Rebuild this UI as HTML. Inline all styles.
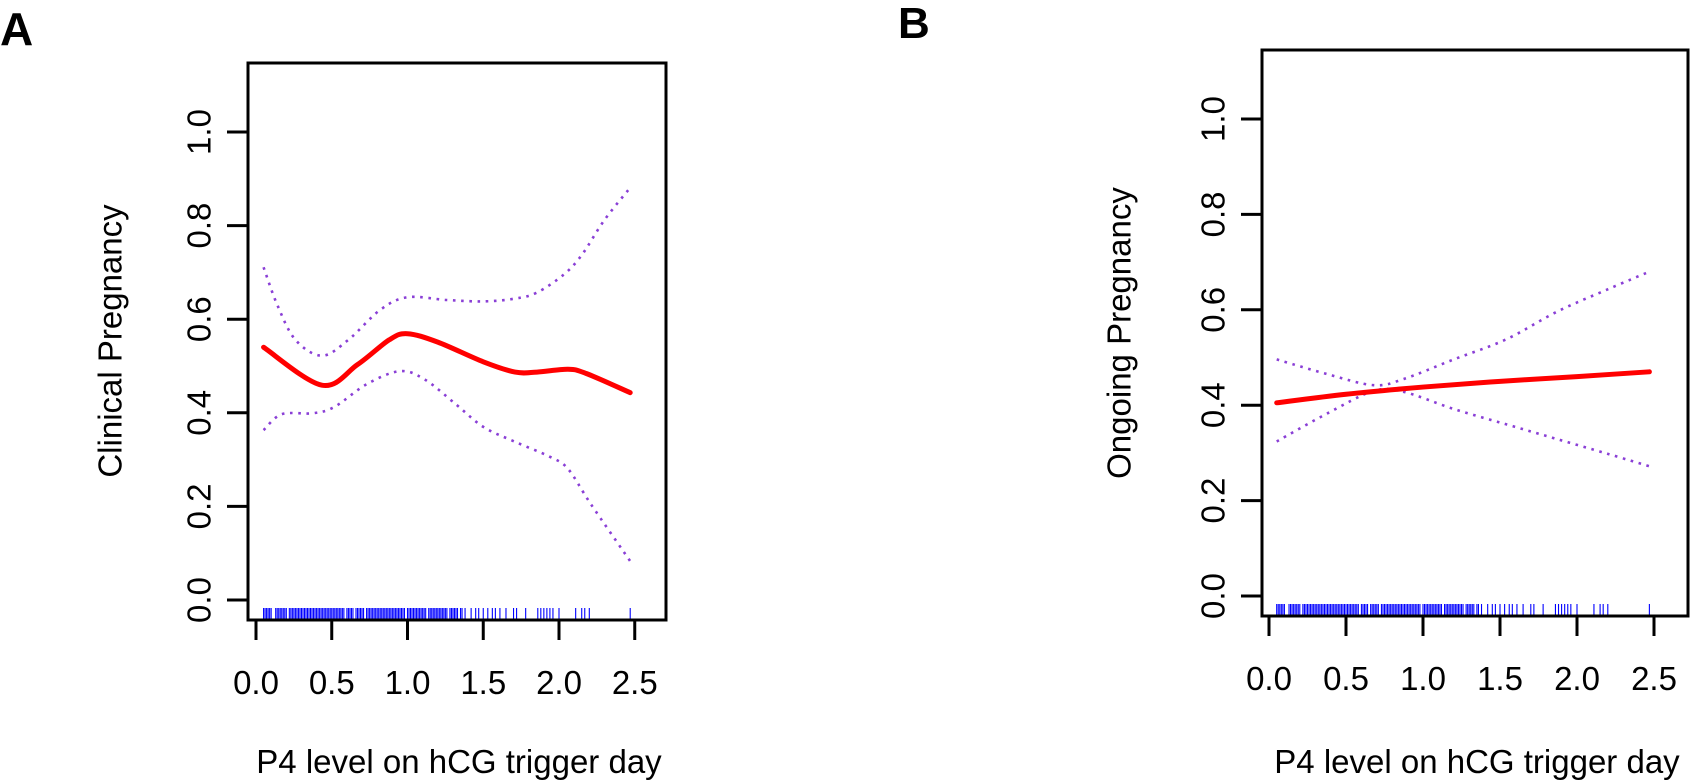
<!DOCTYPE html>
<html>
<head>
<meta charset="utf-8">
<style>
  html,body{margin:0;padding:0;background:#fff;}
  svg{display:block;}
  text{font-family:"Liberation Sans",Arial,sans-serif;fill:#000;}
</style>
</head>
<body>
<svg id="chart" width="1692" height="782" viewBox="0 0 1692 782" xmlns="http://www.w3.org/2000/svg">
  <text x="0" y="45" font-size="46" font-weight="bold">A</text>
  <text x="898" y="38" font-size="44" font-weight="bold">B</text>
</svg>
<script>
// ---------- Data ----------
const xTicks = [0.0, 0.5, 1.0, 1.5, 2.0, 2.5];
const xTickLabels = ["0.0", "0.5", "1.0", "1.5", "2.0", "2.5"];
const yTicks = [0.0, 0.2, 0.4, 0.6, 0.8, 1.0];
const yTickLabels = ["0.0", "0.2", "0.4", "0.6", "0.8", "1.0"];

// Panel A: Clinical Pregnancy
const aFitX = [0.05, 0.435, 0.67, 0.88, 1.0, 1.2, 1.5, 1.71, 1.855, 2.06, 2.18, 2.47];
const aFitY = [0.540, 0.459, 0.503, 0.556, 0.569, 0.551, 0.509, 0.487, 0.487, 0.493, 0.484, 0.443];
const aUpperX = [0.05, 0.14, 0.26, 0.435, 0.61, 0.82, 1.0, 1.26, 1.5, 1.71, 1.855, 2.03, 2.15, 2.3, 2.47];
const aUpperY = [0.711, 0.631, 0.556, 0.522, 0.556, 0.620, 0.647, 0.641, 0.638, 0.644, 0.657, 0.695, 0.737, 0.812, 0.881];
const aLowerX = [0.05, 0.17, 0.376, 0.52, 0.73, 0.95, 1.115, 1.32, 1.5, 1.71, 1.94, 2.06, 2.21, 2.47];
const aLowerY = [0.363, 0.397, 0.399, 0.413, 0.461, 0.489, 0.471, 0.418, 0.370, 0.338, 0.306, 0.280, 0.205, 0.083];

// Panel B: Ongoing Pregnancy
const bFitX = [0.05, 0.5, 1.0, 1.5, 2.0, 2.47];
const bFitY = [0.405, 0.423, 0.438, 0.450, 0.460, 0.470];
const bUpperX = [0.05, 0.38, 0.68, 0.875, 1.2, 1.54, 1.87, 2.2, 2.47];
const bUpperY = [0.496, 0.465, 0.442, 0.455, 0.496, 0.538, 0.596, 0.643, 0.680];
const bLowerX = [0.05, 0.38, 0.68, 0.875, 1.2, 1.54, 1.87, 2.2, 2.47];
const bLowerY = [0.324, 0.383, 0.430, 0.428, 0.392, 0.360, 0.329, 0.298, 0.272];

// Rug (observed P4 values)
const rugValues = [0.05,0.06,0.07,0.08,0.09,0.10,0.13,0.14,0.15,0.16,0.17,0.18,0.19,0.20,0.22,0.23,0.24,0.25,0.26,0.27,0.28,0.29,0.30,
 0.31,0.32,0.33,0.34,0.35,0.36,0.37,0.38,0.39,0.40,0.41,0.42,0.43,0.44,0.45,0.46,0.47,0.48,0.49,0.50,0.51,0.52,0.53,0.54,0.55,
 0.56,0.57,0.58,0.60,0.61,0.62,0.63,0.64,0.66,0.67,0.68,0.69,0.70,0.71,0.73,0.74,0.75,0.76,0.77,0.78,0.79,0.80,0.81,0.82,0.83,
 0.84,0.85,0.86,0.87,0.88,0.89,0.90,0.91,0.92,0.93,0.94,0.95,0.96,0.97,0.98,1.00,1.01,1.02,1.03,1.04,1.05,1.06,1.07,1.08,1.09,
 1.10,1.11,1.12,1.14,1.15,1.16,1.17,1.18,1.19,1.20,1.21,1.22,1.23,1.24,1.25,1.26,1.28,1.29,1.30,1.31,1.32,1.33,1.35,1.36,
 1.38,1.42,1.45,1.47,1.50,1.53,1.56,1.58,1.61,1.65,1.70,1.72,1.78,1.86,1.88,1.90,1.92,1.94,1.96,2.00,2.11,2.15,2.17,2.20,2.47];

// ---------- Rendering ----------
const NS = "http://www.w3.org/2000/svg";
const svg = document.getElementById("chart");
function mk(tag, attrs, parent){
  const e = document.createElementNS(NS, tag);
  for (const k in attrs) e.setAttribute(k, attrs[k]);
  (parent || svg).appendChild(e);
  return e;
}
function smoothPath(pts){
  let d = "M" + pts[0][0].toFixed(2) + "," + pts[0][1].toFixed(2);
  for (let i = 0; i < pts.length - 1; i++){
    const p0 = pts[Math.max(0, i-1)], p1 = pts[i], p2 = pts[i+1], p3 = pts[Math.min(pts.length-1, i+2)];
    const c1x = p1[0] + (p2[0]-p0[0])/6, c1y = p1[1] + (p2[1]-p0[1])/6;
    const c2x = p2[0] - (p3[0]-p1[0])/6, c2y = p2[1] - (p3[1]-p1[1])/6;
    d += " C" + c1x.toFixed(2) + "," + c1y.toFixed(2) + " " + c2x.toFixed(2) + "," + c2y.toFixed(2) + " " + p2[0].toFixed(2) + "," + p2[1].toFixed(2);
  }
  return d;
}

function drawPanel(cfg){
  const g = mk("g", {});
  
  
  const sx = v => cfg.x0 + v * cfg.xu;
  const sy = v => cfg.y0 - v * cfg.yu;

  // Rug
  const rug = mk("g", {}, g);
  
  
  rugValues.forEach(v => {
    const l = mk("line", {x1: sx(v), x2: sx(v), y1: cfg.bottom - 12, y2: cfg.bottom, stroke: "#0000ff", "stroke-width": 1.1}, rug);
    
    
  });

  // CI lines
  [[cfg.ux, cfg.uy, 'upper-ci-line'], [cfg.lx, cfg.ly, 'lower-ci-line']].forEach(s => {
    const pts = s[0].map((x, i) => [sx(x), sy(s[1][i])]);
    const p = mk("path", {d: smoothPath(pts), fill: "none", stroke: "#8a3fd6", "stroke-width": 2.6, "stroke-dasharray": "2.6 5.6"}, g);
    
    
  });
  // Fit line
  const fpts = cfg.fx.map((x, i) => [sx(x), sy(cfg.fy[i])]);
  const fp = mk("path", {d: smoothPath(fpts), fill: "none", stroke: "#ff0000", "stroke-width": 5, "stroke-linecap": "round"}, g);
  
  

  // Box
  const box = mk("rect", {x: cfg.left, y: cfg.top, width: cfg.right - cfg.left, height: cfg.bottom - cfg.top, fill: "none", stroke: "#000", "stroke-width": 3}, g);
  
  

  // X ticks
  xTicks.forEach((v, i) => {
    const t = mk("line", {x1: sx(v), x2: sx(v), y1: cfg.bottom, y2: cfg.bottom + 20, stroke: "#000", "stroke-width": 3}, g);
    
    
    const lb = mk("text", {x: sx(v), y: cfg.bottom + 74, "font-size": 33, "text-anchor": "middle"}, g);
    lb.textContent = xTickLabels[i];
    
    
  });
  // Y ticks
  yTicks.forEach((v, i) => {
    const t = mk("line", {x1: cfg.left - 21, x2: cfg.left, y1: sy(v), y2: sy(v), stroke: "#000", "stroke-width": 3}, g);
    
    
    const lx = cfg.left - 49, ly = sy(v);
    const lb = mk("text", {x: lx, y: ly, "font-size": 33, "text-anchor": "middle", "dominant-baseline": "central", transform: "rotate(-90 " + lx + " " + ly + ")"}, g);
    lb.textContent = yTickLabels[i];
    
    
  });
  // Titles
  const xt = mk("text", {x: (cfg.left + cfg.right) / 2 + 2, y: 773, "font-size": 33, "text-anchor": "middle"}, g);
  xt.textContent = "P4 level on hCG trigger day";
  
  
  const tx = cfg.ytitleX, ty = cfg.ytitleY;
  const yt = mk("text", {x: tx, y: ty, "font-size": 33, "text-anchor": "middle", "dominant-baseline": "central", transform: "rotate(-90 " + tx + " " + ty + ")"}, g);
  yt.textContent = cfg.ytitle;
  
  
}

drawPanel({name: 'panel-a-clinical-pregnancy', left: 248, right: 666, top: 63, bottom: 620,
  x0: 256, xu: 151.5, y0: 600, yu: 468,
  fx: aFitX, fy: aFitY, ux: aUpperX, uy: aUpperY, lx: aLowerX, ly: aLowerY,
  ytitle: "Clinical Pregnancy", ytitleX: 110, ytitleY: 341});
drawPanel({name: 'panel-b-ongoing-pregnancy', left: 1262, right: 1688, top: 50, bottom: 616,
  x0: 1269, xu: 154, y0: 596, yu: 477,
  fx: bFitX, fy: bFitY, ux: bUpperX, uy: bUpperY, lx: bLowerX, ly: bLowerY,
  ytitle: "Ongoing Pregnancy", ytitleX: 1119, ytitleY: 333});
</script>
</body>
</html>
